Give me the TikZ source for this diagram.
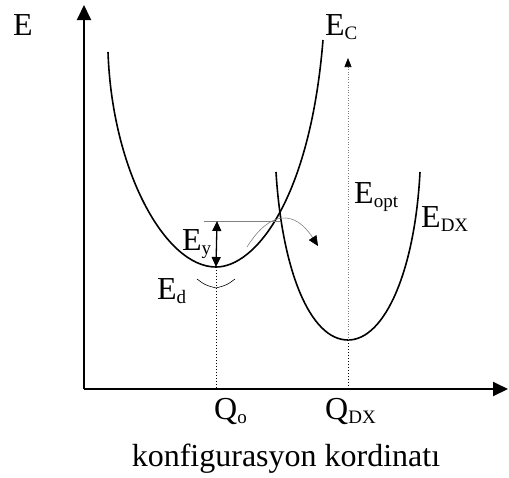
\documentclass[tikz,border=0pt]{standalone}
\usepackage{fontspec}
\setmainfont{Liberation Serif}
\usetikzlibrary{
		arrows.meta,
		calc
	}
\tikzset{
		>=stealth,
		axis/.style={line width=2pt, -{Triangle[length=15pt,width=14pt]}},
		curve/.style={line width=1.6pt},
		guide/.style={dotted, line width=1pt},
		faint/.style={gray, line width=0.6pt},
		lbl/.style={anchor=base west, inner sep=0pt, font=\fontsize{32}{36}\selectfont}
	}
\newcommand\lowsub[1]{\raisebox{-4pt}{\fontsize{19}{19}\selectfont #1}}

\begin{document}
\begin{tikzpicture}[x=1pt, y=-1pt]
            \useasboundingbox (0,0) rectangle (509,477);
            \coordinate (O) at (84,389);
            \coordinate (minC) at (216,267);
            \coordinate (minDX) at (348,340);
            \coordinate (cross) at (280,221);

            % axes
            \draw[axis] (O) -- (84,5);
            \draw[axis] (O) -- (508,389);

            % E_C and E_DX curves
            \draw[curve] (108,52) .. controls (112,170) and (165,267) .. (minC) .. controls (255,267) and (310,200) .. (323,40);
            \draw[curve] (276,172) .. controls (282,270) and (310,340) .. (minDX) .. controls (385,340) and (415,270) .. (420,172);

            % guide lines down to the axis
            \draw[guide] (minC) -- (minC |- O);
            \draw[guide] (minDX) -- (minDX |- O);
            \draw[faint, dotted, -{Triangle[length=9pt,width=7pt,black]}] (minDX) -- (348,58);

            % barrier and transitions
            \draw[faint] (204,221) -- (cross);
            \draw[line width=1.3pt, {Triangle[length=10pt,width=9pt]}-{Triangle[length=10pt,width=9pt]}] (217,221) -- (minC);
            \draw[faint, -{Triangle[length=10pt,width=9pt,black]}] (247,247) .. controls (270,210) and (295,210) .. (318,246);
            \draw[line width=0.6pt] (197,279) .. controls (205,285) .. (216,288) .. controls (227,285) .. (235,279);

            % labels
            \node[lbl] (lE) at (13,35) {E};
            \node[lbl] (lEC) at (325,35) {E\lowsub{C}};
            \node[lbl] (lEy) at (182,250) {E\lowsub{y}};
            \node[lbl] (lEd) at (157,299) {E\lowsub{d}};
            \node[lbl] (lEopt) at (354,203) {E\lowsub{opt}};
            \node[lbl] (lEDX) at (421,227) {E\lowsub{DX}};
            \node[lbl] (lQo) at (214,419) {Q\lowsub{o}};
            \node[lbl] (lQDX) at (325,419) {Q\lowsub{DX}};
            \node[lbl, anchor=base] (lq) at (286,466) {konfigurasyon kordinatı};
        \end{tikzpicture}
\end{document}
